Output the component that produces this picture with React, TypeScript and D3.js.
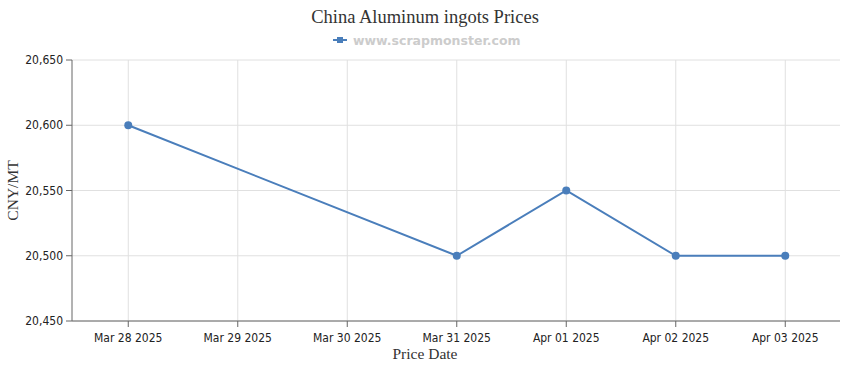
import React from "react";
import * as d3 from "d3";

const dates = ["2025-03-28", "2025-03-31", "2025-04-01", "2025-04-02", "2025-04-03"];
const prices = [20600, 20500, 20550, 20500, 20500];
const yTicks = [20450, 20500, 20550, 20600, 20650];
const xTickDates = ["2025-03-28", "2025-03-29", "2025-03-30", "2025-03-31", "2025-04-01", "2025-04-02", "2025-04-03"];

const W = 850, H = 370;
const M = { left: 72, right: 10, top: 60, bottom: 49 };
const COLOR = "#4a7ebb";

const parse = d3.utcParse("%Y-%m-%d");
const fmtX = d3.utcFormat("%b %d %Y");
const fmtY = d3.format(",");

export default function App() {
  const x = d3.scaleUtc()
    .domain([d3.utcHour.offset(parse(xTickDates[0])!, -12), d3.utcHour.offset(parse(xTickDates[xTickDates.length - 1])!, 12)])
    .range([M.left + 1.5, W - M.right]);
  const y = d3.scaleLinear().domain([20450, 20650]).range([H - M.bottom, M.top]);
  const data = dates.map((d, i) => ({ d: parse(d)!, v: prices[i] }));
  const line = d3.line<{ d: Date; v: number }>().x(p => x(p.d)).y(p => y(p.v));
  const x0 = M.left, x1 = W - M.right, yb = H - M.bottom;
  return (
    <svg width={W} height={H} style={{ position: "absolute", left: 0, top: 0, background: "#fff" }}>
      <text x={425} y={23} textAnchor="middle" fontFamily="Liberation Serif, serif" fontSize={18.5} fill="#333">China Aluminum ingots Prices</text>
      <g>
        <line x1={333} x2={347} y1={40} y2={40} stroke={COLOR} strokeWidth={2} />
        <rect x={337} y={37} width={6} height={6} fill={COLOR} />
        <text x={353} y={45} fontFamily="DejaVu Sans, sans-serif" fontWeight="bold" fontSize={12.5} fill="#ccc">www.scrapmonster.com</text>
      </g>
      {yTicks.map(t => (
        <line key={"gy" + t} x1={x0} x2={x1} y1={y(t)} y2={y(t)} stroke="#e0e0e0" />
      ))}
      {xTickDates.map(t => (
        <line key={"gx" + t} x1={x(parse(t)!)} x2={x(parse(t)!)} y1={M.top} y2={yb} stroke="#e0e0e0" />
      ))}
      <line x1={x0} x2={x0} y1={M.top} y2={yb} stroke="#666" />
      <line x1={x0} x2={x1} y1={yb} y2={yb} stroke="#666" />
      {yTicks.map(t => (
        <g key={"ty" + t}>
          <line x1={x0 - 6} x2={x0} y1={y(t)} y2={y(t)} stroke="#666" />
          <text x={x0 - 9} y={y(t) + 4} textAnchor="end" fontFamily="DejaVu Sans Condensed, sans-serif" fontSize={12} fill="#222">{fmtY(t)}</text>
        </g>
      ))}
      {xTickDates.map(t => {
        const xx = x(parse(t)!);
        return (
          <g key={"tx" + t}>
            <line x1={xx} x2={xx} y1={yb} y2={yb + 6} stroke="#666" />
            <text x={xx} y={yb + 21} textAnchor="middle" fontFamily="DejaVu Sans Condensed, sans-serif" fontSize={12} fill="#222">{fmtX(parse(t)!)}</text>
          </g>
        );
      })}
      <text x={425} y={359} textAnchor="middle" fontFamily="Liberation Serif, serif" fontSize={15.5} fill="#333">Price Date</text>
      <text transform={`translate(18,${(M.top + yb) / 2}) rotate(-90)`} textAnchor="middle" fontFamily="Liberation Serif, serif" fontSize={15.5} fill="#333">CNY/MT</text>
      <path d={line(data) || ""} fill="none" stroke={COLOR} strokeWidth={2} />
      {data.map((p, i) => (
        <circle key={i} cx={x(p.d)} cy={y(p.v)} r={4} fill={COLOR} />
      ))}
    </svg>
  );
}
